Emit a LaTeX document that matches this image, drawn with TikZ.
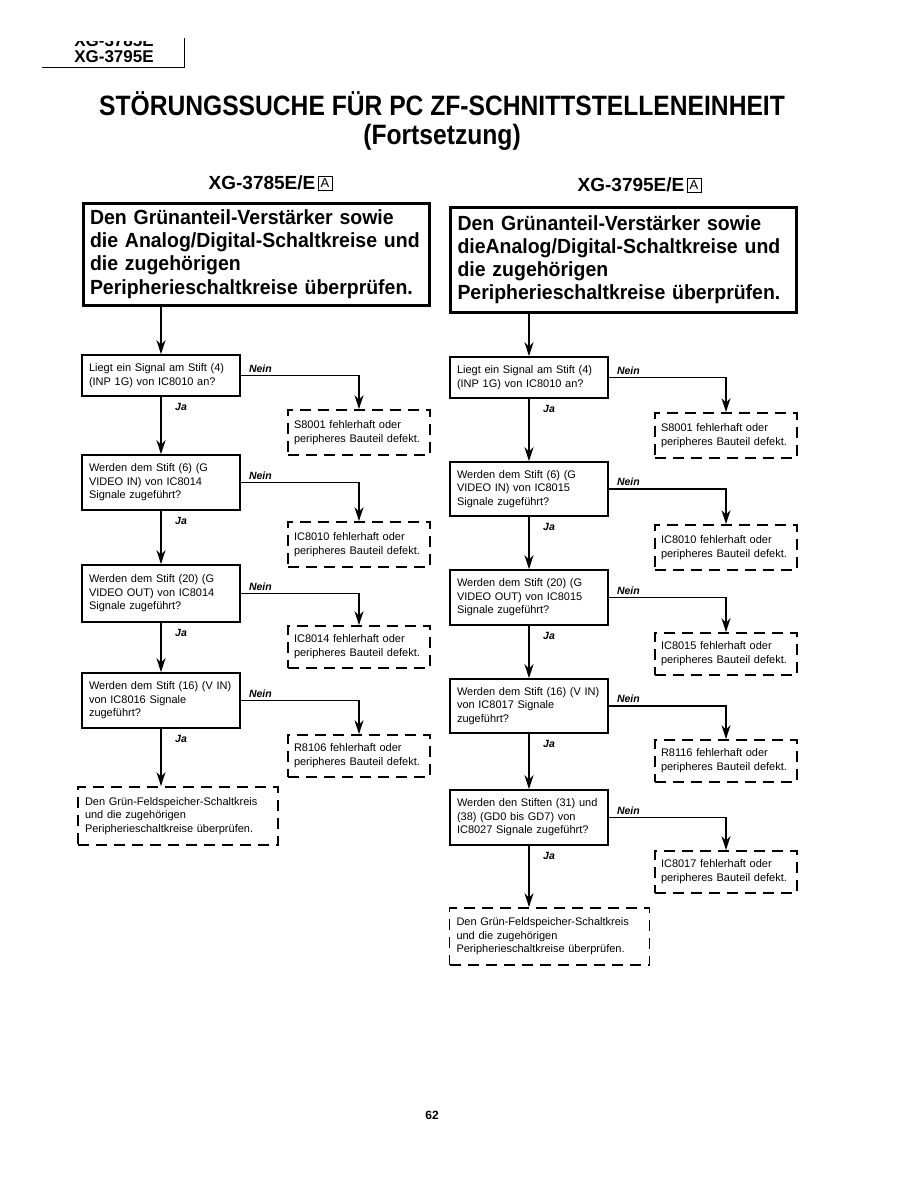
\documentclass[tikz,border=0pt]{standalone}
\usepackage{fontspec}
\setmainfont{Liberation Sans}
\newfontfamily\titlefont[FakeStretch=0.88]{Liberation Sans}
\newfontfamily\boxfont[FakeStretch=0.95]{Liberation Sans}
\usetikzlibrary{arrows.meta}
\begin{document}
\begin{tikzpicture}[x=1pt,y=-1pt,
  qbox/.style={draw,line width=1.6pt,text width=144pt,inner xsep=7pt,inner ysep=4pt,align=left,
    font=\fontsize{11}{13.6}\selectfont},
  dbox/.style={draw,line width=1.8pt,dash pattern=on 11pt off 7pt,text width=130pt,inner xsep=6pt,
    inner ysep=4pt,align=left,font=\fontsize{11}{14}\selectfont},
  fbox/.style={draw,line width=1.8pt,dash pattern=on 11pt off 7pt,text width=186pt,inner xsep=7pt,
    inner ysep=4pt,align=left,font=\fontsize{11}{13.6}\selectfont},
  bigbox/.style={draw,line width=3pt,text width=332pt,inner xsep=7pt,inner ysep=4pt,align=left,
    font=\boxfont\bfseries\fontsize{20.5}{23.2}\selectfont},
  lbl/.style={font=\bfseries\itshape\fontsize{10.5}{12}\selectfont,inner sep=1pt},
  arr/.style={line width=1.8pt,-{Stealth[length=14pt,width=9pt]}},
  hdr/.style={font=\bfseries\fontsize{19}{22}\selectfont,inner sep=0pt},
  boxa/.style={draw,line width=0.7pt,inner sep=0.8pt,font=\fontsize{13}{13}\selectfont,minimum size=14pt}
]
\useasboundingbox (0,0) rectangle (918,1188);
\fill[white] (0,0) rectangle (918,1188);

% page header
\begin{scope}
  \clip (0,42) rectangle (300,70);
  \node[font=\bfseries\fontsize{17}{17}\selectfont,inner sep=0pt] (ph0) at (114,41) {XG-3785E};
\end{scope}
\node[font=\bfseries\fontsize{17}{17}\selectfont,inner sep=0pt] (ph1) at (114,57) {XG-3795E};
\coordinate (hl0) at (42,68);
\coordinate (hl1) at (184,68);
\coordinate (hl2) at (184,38);
\draw[line width=1pt] (hl0) -- (hl1) -- (hl2);

% title
\node[font=\titlefont\bfseries\fontsize{28}{30}\selectfont,inner sep=0pt] (t1) at (442,104) {STÖRUNGSSUCHE FÜR PC ZF-SCHNITTSTELLENEINHEIT};
\node[font=\titlefont\bfseries\fontsize{28}{30}\selectfont,inner sep=0pt] (t2) at (442,137) {(Fortsetzung)};

% column headers
\node[hdr] (hL) at (262,183) {XG-3785E/E};
\node[boxa,anchor=west] (aL) at ([xshift=2pt]hL.east) {A};
\node[hdr] (hR) at (631,185) {XG-3795E/E};
\node[boxa,anchor=west] (aR) at ([xshift=2pt]hR.east) {A};

% ---------------- left column ----------------
\node[bigbox,minimum height=102pt] (bigL) at (256,254) {Den Grünanteil-Verstärker sowie\\die Analog/Digital-Schaltkreise und\\die zugehörigen\\Peripherieschaltkreise überprüfen.};

\node[qbox,minimum height=41pt] (lq1) at (161,375.5) {Liegt ein Signal am Stift (4)\\(INP 1G) von IC8010 an?};
\node[dbox,minimum height=45pt] (ld1) at (359,432.5) {S8001 fehlerhaft oder\\peripheres Bauteil defekt.};
\node[qbox,minimum height=55pt] (lq2) at (161,482.5) {Werden dem Stift (6) (G\\VIDEO IN) von IC8014\\Signale zugeführt?};
\node[dbox,minimum height=45pt] (ld2) at (359,544.5) {IC8010 fehlerhaft oder\\peripheres Bauteil defekt.};
\node[qbox,minimum height=57pt] (lq3) at (161,593.5) {Werden dem Stift (20) (G\\VIDEO OUT) von IC8014\\Signale zugeführt?};
\node[dbox,minimum height=42pt] (ld3) at (359,647) {IC8014 fehlerhaft oder\\peripheres Bauteil defekt.};
\node[qbox,minimum height=55pt] (lq4) at (161,700.5) {Werden dem Stift (16) (V IN)\\von IC8016 Signale\\zugeführt?};
\node[dbox,minimum height=42pt] (ld4) at (359,756) {R8106 fehlerhaft oder\\peripheres Bauteil defekt.};
\node[fbox,minimum height=58pt] (lf) at (178,816) {Den Grün-Feldspeicher-Schaltkreis\\und die zugehörigen\\Peripherieschaltkreise überprüfen.};

\draw[arr] (lq1.north |- bigL.south) -- (lq1.north);
\foreach \q/\d/\n in {lq1/ld1/lq2, lq2/ld2/lq3, lq3/ld3/lq4} {
  \draw[arr] (\q.east) -| (\d.north);
  \draw[arr] (\q.south) -- (\n.north);
  \node[lbl,anchor=south west] (nein-\q) at ([xshift=7pt,yshift=2pt]\q.east) {Nein};
  \node[lbl,anchor=north west] (ja-\q) at ([xshift=13pt,yshift=-5pt]\q.south) {Ja};
}
\draw[arr] (lq4.east) -| (ld4.north);
\draw[arr] (lq4.south) -- (lq4.south |- lf.north);
\node[lbl,anchor=south west] (nein-lq4) at ([xshift=7pt,yshift=2pt]lq4.east) {Nein};
\node[lbl,anchor=north west] (ja-lq4) at ([xshift=13pt,yshift=-5pt]lq4.south) {Ja};

% ---------------- right column ----------------
\node[bigbox,minimum height=105pt] (bigR) at (623.5,259.5) {Den Grünanteil-Verstärker sowie\\dieAnalog/Digital-Schaltkreise und\\die zugehörigen\\Peripherieschaltkreise überprüfen.};

\node[qbox,minimum height=41pt] (rq1) at (529,377.5) {Liegt ein Signal am Stift (4)\\(INP 1G) von IC8010 an?};
\node[dbox,minimum height=45pt] (rd1) at (726,435.5) {S8001 fehlerhaft oder\\peripheres Bauteil defekt.};
\node[qbox,minimum height=54pt] (rq2) at (529,489) {Werden dem Stift (6) (G\\VIDEO IN) von IC8015\\Signale zugeführt?};
\node[dbox,minimum height=45pt] (rd2) at (726,547.5) {IC8010 fehlerhaft oder\\peripheres Bauteil defekt.};
\node[qbox,minimum height=55pt] (rq3) at (529,597.5) {Werden dem Stift (20) (G\\VIDEO OUT) von IC8015\\Signale zugeführt?};
\node[dbox,minimum height=42pt] (rd3) at (726,654) {IC8015 fehlerhaft oder\\peripheres Bauteil defekt.};
\node[qbox,minimum height=54pt] (rq4) at (529,706) {Werden dem Stift (16) (V IN)\\von IC8017 Signale\\zugeführt?};
\node[dbox,minimum height=42pt] (rd4) at (726,761) {R8116 fehlerhaft oder\\peripheres Bauteil defekt.};
\node[qbox,minimum height=55pt] (rq5) at (529,817.5) {Werden den Stiften (31) und\\(38) (GD0 bis GD7) von\\IC8027 Signale zugeführt?};
\node[dbox,minimum height=42pt] (rd5) at (726,872) {IC8017 fehlerhaft oder\\peripheres Bauteil defekt.};
\node[fbox,minimum height=57pt] (rf) at (549.5,936.5) {Den Grün-Feldspeicher-Schaltkreis\\und die zugehörigen\\Peripherieschaltkreise überprüfen.};

\draw[arr] (rq1.north |- bigR.south) -- (rq1.north);
\foreach \q/\d/\n in {rq1/rd1/rq2, rq2/rd2/rq3, rq3/rd3/rq4, rq4/rd4/rq5} {
  \draw[arr] (\q.east) -| (\d.north);
  \draw[arr] (\q.south) -- (\n.north);
  \node[lbl,anchor=south west] (nein-\q) at ([xshift=7pt,yshift=2pt]\q.east) {Nein};
  \node[lbl,anchor=north west] (ja-\q) at ([xshift=13pt,yshift=-5pt]\q.south) {Ja};
}
\draw[arr] (rq5.east) -| (rd5.north);
\draw[arr] (rq5.south) -- (rq5.south |- rf.north);
\node[lbl,anchor=south west] (nein-rq5) at ([xshift=7pt,yshift=2pt]rq5.east) {Nein};
\node[lbl,anchor=north west] (ja-rq5) at ([xshift=13pt,yshift=-5pt]rq5.south) {Ja};

% page number
\node[font=\bfseries\fontsize{12}{12}\selectfont] (pg) at (432,1115) {62};
\end{tikzpicture}
\end{document}
